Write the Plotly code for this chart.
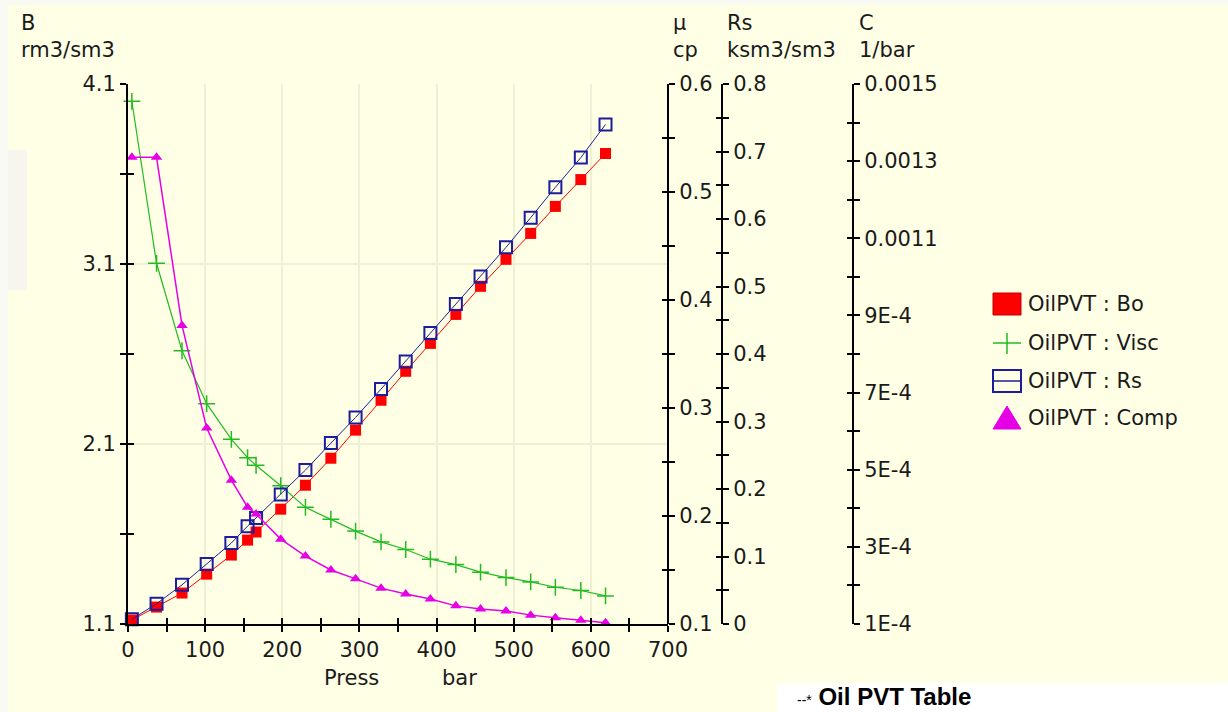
import plotly.graph_objects as go

# ---------------- data ----------------
pressure = [5, 37, 70, 102, 134, 155, 166, 198, 230, 263, 295, 328, 360, 392,
            425, 457, 490, 522, 554, 587, 619]
bo = [1.122, 1.194, 1.272, 1.377, 1.483, 1.566, 1.611, 1.738, 1.871, 2.021,
      2.177, 2.343, 2.504, 2.659, 2.820, 2.976, 3.126, 3.270, 3.420, 3.569, 3.714]
visc = [0.584, 0.434, 0.353, 0.304, 0.271, 0.254, 0.247, 0.228, 0.208, 0.197,
        0.186, 0.176, 0.169, 0.160, 0.155, 0.148, 0.143, 0.139, 0.134, 0.131, 0.126]
rs = [0.007, 0.030, 0.058, 0.089, 0.120, 0.145, 0.157, 0.192, 0.228, 0.268,
      0.306, 0.348, 0.389, 0.431, 0.474, 0.515, 0.558, 0.602, 0.647, 0.691, 0.740]
comp = [0.001310, 0.001310, 0.000874, 0.000608, 0.000473, 0.000403, 0.000385,
        0.000320, 0.000276, 0.000240, 0.000217, 0.000193, 0.000178, 0.000165,
        0.000147, 0.000139, 0.000134, 0.000123, 0.000116, 0.000110, 0.000103]

x_major = [0, 100, 200, 300, 400, 500, 600, 700]
x_minor = [50, 150, 250, 350, 450, 550, 650]
b_major = [1.1, 2.1, 3.1, 4.1]
b_minor = [1.6, 2.6, 3.6]
visc_major = [0.1, 0.2, 0.3, 0.4, 0.5, 0.6]
visc_minor = [0.15, 0.25, 0.35, 0.45, 0.55]
rs_major = [0, 0.1, 0.2, 0.3, 0.4, 0.5, 0.6, 0.7, 0.8]
rs_minor = [0.05, 0.15, 0.25, 0.35, 0.45, 0.55, 0.65, 0.75]
comp_major = [0.0001, 0.0003, 0.0005, 0.0007, 0.0009, 0.0011, 0.0013, 0.0015]
comp_labels = ["1E-4", "3E-4", "5E-4", "7E-4", "9E-4", "0.0011", "0.0013", "0.0015"]
comp_minor = [0.0002, 0.0004, 0.0006, 0.0008, 0.0010, 0.0012, 0.0014]

legend_names = ["OilPVT : Bo", "OilPVT : Visc", "OilPVT : Rs", "OilPVT : Comp"]

# ---------------- style ----------------
W, H = 1228, 712
L, R, T, B = 128, 375, 84, 88
PW, PH = W - L - R, H - T - B
BG = "#FFFFE6"
GRID = "#EFEFD4"
FONT = "DejaVu Sans"
TXT = "#1A1A1A"
C_BO, C_VISC, C_RS, C_COMP = "#FF0000", "#22BB22", "#1C1C9C", "#E600E6"


def px(xp):
    return (xp - L) / PW


def py(yp):
    return (H - B - yp) / PH


X_END = px(668)
RS_POS = px(722)
C_POS = 1.0

fig = go.Figure()

fig.add_trace(go.Scatter(x=pressure, y=comp, yaxis="y4", mode="lines+markers",
                         line=dict(color=C_COMP, width=1.5),
                         marker=dict(symbol="triangle-up", size=10, color=C_COMP),
                         cliponaxis=False, showlegend=False, name=legend_names[3]))
fig.add_trace(go.Scatter(x=pressure, y=visc, yaxis="y2", mode="lines+markers",
                         line=dict(color=C_VISC, width=1.2),
                         marker=dict(symbol="cross-thin", size=12,
                                     line=dict(color=C_VISC, width=1.5)),
                         cliponaxis=False, showlegend=False, name=legend_names[1]))
fig.add_trace(go.Scatter(x=pressure, y=bo, yaxis="y", mode="lines+markers",
                         line=dict(color=C_BO, width=1),
                         marker=dict(symbol="square", size=11, color=C_BO),
                         cliponaxis=False, showlegend=False, name=legend_names[0]))
fig.add_trace(go.Scatter(x=pressure, y=rs, yaxis="y3", mode="lines+markers",
                         line=dict(color=C_RS, width=1),
                         marker=dict(symbol="square-open", size=12,
                                     line=dict(color=C_RS, width=2)),
                         cliponaxis=False, showlegend=False, name=legend_names[2]))

# dummy traces so the twin (inside-tick) axes are drawn
for xa, ya in [("x2", "y"), ("x", "y5"), ("x", "y6"), ("x", "y7"), ("x", "y8")]:
    fig.add_trace(go.Scatter(x=[None], y=[None], xaxis=xa, yaxis=ya,
                             showlegend=False, hoverinfo="skip"))

tickfont = dict(family=FONT, size=21, color=TXT)
common = dict(showline=True, linecolor="black", linewidth=2, ticks="outside",
              ticklen=6, tickwidth=2, tickcolor="black", zeroline=False,
              tickfont=tickfont, tickmode="array")
twin = dict(showline=False, ticks="inside", ticklen=6, tickwidth=2,
            tickcolor="black", zeroline=False, showgrid=False,
            showticklabels=False, tickmode="array")

fig.update_layout(
    width=W, height=H,
    margin=dict(l=L, r=R, t=T, b=B),
    paper_bgcolor=BG, plot_bgcolor=BG,
    showlegend=False,
    xaxis=dict(domain=[0, X_END], range=[0, 700], anchor="y",
               tickvals=x_major, ticktext=[str(v) for v in x_major],
               showgrid=True, gridcolor=GRID, gridwidth=1.5,
               minor=dict(tickvals=x_minor, ticks="outside", ticklen=6,
                          tickwidth=2, tickcolor="black", showgrid=False),
               **common),
    xaxis2=dict(domain=[0, X_END], range=[0, 700], anchor="y", overlaying="x",
                side="bottom", tickvals=x_major + x_minor, **twin),
    yaxis=dict(domain=[0, 1], range=[1.1, 4.1], anchor="x", side="left",
               tickvals=b_major, ticktext=[str(v) for v in b_major],
               showgrid=True, gridcolor=GRID, gridwidth=1.5,
               minor=dict(tickvals=b_minor, ticks="outside", ticklen=6,
                          tickwidth=2, tickcolor="black", showgrid=False),
               **common),
    yaxis2=dict(range=[0.1, 0.6], anchor="free", position=X_END, overlaying="y",
                side="right", tickvals=visc_major,
                ticktext=[str(v) for v in visc_major], showgrid=False,
                minor=dict(tickvals=visc_minor, ticks="outside", ticklen=6,
                           tickwidth=2, tickcolor="black"),
                **common),
    yaxis3=dict(range=[0, 0.8], anchor="free", position=RS_POS, overlaying="y",
                side="right", tickvals=rs_major,
                ticktext=[("0" if v == 0 else str(v)) for v in rs_major],
                showgrid=False,
                minor=dict(tickvals=rs_minor, ticks="outside", ticklen=6,
                           tickwidth=2, tickcolor="black"),
                **common),
    yaxis4=dict(range=[0.0001, 0.0015], anchor="free", position=C_POS,
                overlaying="y", side="right", tickvals=comp_major,
                ticktext=comp_labels, showgrid=False,
                minor=dict(tickvals=comp_minor, ticks="outside", ticklen=6,
                           tickwidth=2, tickcolor="black"),
                **common),
    yaxis5=dict(range=[1.1, 4.1], anchor="x", overlaying="y", side="left",
                tickvals=b_major + b_minor, **twin),
    yaxis6=dict(range=[0.1, 0.6], anchor="free", position=X_END, overlaying="y",
                side="right", tickvals=visc_major + visc_minor, **twin),
    yaxis7=dict(range=[0, 0.8], anchor="free", position=RS_POS, overlaying="y",
                side="right", tickvals=rs_major + rs_minor, **twin),
    yaxis8=dict(range=[0.0001, 0.0015], anchor="free", position=C_POS,
                overlaying="y", side="right", tickvals=comp_major + comp_minor,
                **twin),
)

# ---------------- text annotations ----------------
def note(text, xp, yp, size=21, xanchor="left", yanchor="middle", color=TXT, family=FONT):
    fig.add_annotation(text=text, x=px(xp), y=py(yp), xref="paper", yref="paper",
                       showarrow=False, xanchor=xanchor, yanchor=yanchor,
                       font=dict(family=family, size=size, color=color))

note("B", 19, 23)
note("rm3/sm3", 19, 50)
note("μ", 671, 23)
note("cp", 671, 50)
note("Rs", 725, 23)
note("ksm3/sm3", 725, 50)
note("C", 857, 23)
note("1/bar", 857, 50)
note("Press", 351, 678, xanchor="center")
note("bar", 459, 678, xanchor="center")

# ---------------- manual legend ----------------
shape_common = dict(xref="paper", yref="paper", layer="above")
leg_y = [304, 343, 381, 418]
lx0, lx1 = 993, 1021
# Bo
fig.add_shape(type="rect", x0=px(lx0), x1=px(lx1), y0=py(293), y1=py(315),
              fillcolor=C_BO, line=dict(color="#C00000", width=1), **shape_common)
# Visc
fig.add_shape(type="line", x0=px(lx0), x1=px(lx1), y0=py(343), y1=py(343),
              line=dict(color=C_VISC, width=1.5), **shape_common)
fig.add_shape(type="line", x0=px(1007), x1=px(1007), y0=py(333), y1=py(354),
              line=dict(color=C_VISC, width=1.5), **shape_common)
# Rs
fig.add_shape(type="rect", x0=px(lx0), x1=px(lx1), y0=py(370), y1=py(392),
              fillcolor="rgba(0,0,0,0)", line=dict(color=C_RS, width=2), **shape_common)
fig.add_shape(type="line", x0=px(lx0), x1=px(lx1), y0=py(381), y1=py(381),
              line=dict(color=C_RS, width=1.5), **shape_common)
# Comp
fig.add_shape(type="path",
              path="M {a},{b} L {c},{d} L {e},{b} Z".format(
                  a=px(lx0), b=py(429), c=px(1007), d=py(406), e=px(lx1)),
              fillcolor=C_COMP, line=dict(color=C_COMP, width=1), **shape_common)
for name, yy in zip(legend_names, leg_y):
    note(name, 1026, yy)

# ---------------- page decorations ----------------
fig.add_shape(type="rect", x0=px(0), x1=px(W), y0=py(0), y1=py(5),
              fillcolor="#FAFAF4", line=dict(width=0), xref="paper", yref="paper", layer="below")
fig.add_shape(type="rect", x0=px(0), x1=px(8), y0=py(0), y1=py(H),
              fillcolor="#FAFAF4", line=dict(width=0), xref="paper", yref="paper", layer="below")
fig.add_shape(type="rect", x0=px(8), x1=px(27), y0=py(150), y1=py(290),
              fillcolor="#F6F6EE", line=dict(width=0), xref="paper", yref="paper", layer="below")
fig.add_shape(type="rect", x0=px(777), x1=px(W), y0=py(683), y1=py(H),
              fillcolor="#FFFFFF", line=dict(width=0), xref="paper", yref="paper", layer="above")
note("<span style='font-size:14px'>--*</span> <b>Oil PVT Table</b>", 795, 712,
     size=24, yanchor="bottom", color="#000000", family="Liberation Sans")

fig.write_html("out.html", config={"displayModeBar": False},
               post_script="document.body.style.margin='0';")
